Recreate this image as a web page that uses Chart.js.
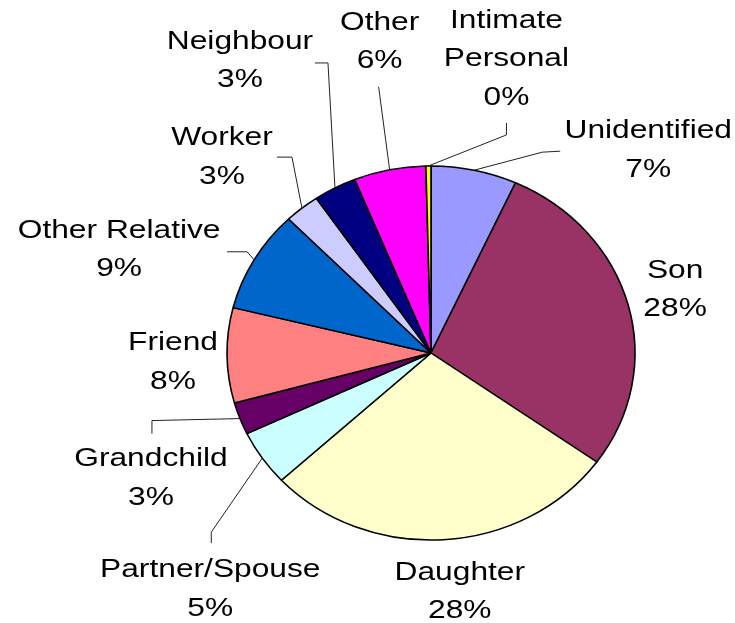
<!DOCTYPE html>
<html>
<head>
<meta charset="utf-8">
<script src="https://cdn.jsdelivr.net/npm/chart.js@4"></script>
<style>
  body { margin: 0; background: #fff; }
  canvas { display: block; }
</style>
</head>
<body>
<canvas id="pieChart" width="735" height="623"></canvas>
<script>
// data (share of cases, %)
const categories = ['Unidentified', 'Son', 'Daughter', 'Partner/Spouse', 'Grandchild', 'Friend',
    'Other Relative', 'Worker', 'Neighbour', 'Other', 'Intimate Personal'];
const shares = [6.8, 28.1, 28.2, 4.8, 2.8, 8.2, 8.8, 2.8, 3.4, 5.7, 0.4];
const sliceColors = ['#9999FF', '#993366', '#FFFFCC', '#CCFFFF', '#660066', '#FF8080',
    '#0066CC', '#CCCCFF', '#000080', '#FF00FF', '#FFFF00'];

// pie is drawn a bit squashed, like the original
const SQUASH = 0.917;

// label placement: offset of the text block from the slice's outer mid point,
// optional leader line points relative to the text block centre
const labelLayout = [
    { dx: 174, dy: -20, leader: [[-88, 1], [-106, 2]] },
    { dx: 47, dy: -15 },
    { dx: 16, dy: 52 },
    { dx: -52, dy: 131, leader: [[1, -46], [1, -57]] },
    { dx: -89, dy: 60, leader: [[1, -45], [1, -58]] },
    { dx: -54, dy: 7 },
    { dx: -135, dy: -10, leader: [[108, 2], [128, 2]] },
    { dx: -80, dy: -51, leader: [[55, 0], [70, 0]] },
    { dx: -95, dy: -127, leader: [[75, 2], [88, 2]] },
    { dx: -10, dy: -128, leader: [[-1, 45]] },
    { dx: 78, dy: -107, leader: [[0, 64], [0, 76]], wrap: true }
];

const squashPlugin = {
    id: 'squash',
    beforeDatasetsDraw(chart) {
        const arc = chart.getDatasetMeta(0).data[0];
        const ctx = chart.ctx;
        ctx.save();
        ctx.translate(0, arc.y);
        ctx.scale(1, SQUASH);
        ctx.translate(0, -arc.y);
    },
    afterDatasetsDraw(chart) {
        chart.ctx.restore();
    }
};

const outsideLabels = {
    id: 'outsideLabels',
    afterDraw(chart) {
        const ctx = chart.ctx;
        const values = chart.data.datasets[0].data;
        const total = values.reduce((a, b) => a + b, 0);
        const lineH = 38.5;

        chart.getDatasetMeta(0).data.forEach((arc, i) => {
            const p = arc.getProps(['x', 'y', 'startAngle', 'endAngle', 'outerRadius'], true);
            const mid = (p.startAngle + p.endAngle) / 2;
            const ex = p.x + p.outerRadius * Math.cos(mid);
            const ey = p.y + p.outerRadius * Math.sin(mid) * SQUASH;
            const lay = labelLayout[i];
            const cx = ex + lay.dx;
            const cy = ey + lay.dy;

            if (lay.leader) {
                ctx.save();
                ctx.strokeStyle = '#222';
                ctx.lineWidth = 1;
                ctx.beginPath();
                lay.leader.forEach((pt, k) => {
                    if (k === 0) ctx.moveTo(cx + pt[0], cy + pt[1]);
                    else ctx.lineTo(cx + pt[0], cy + pt[1]);
                });
                ctx.lineTo(ex, ey);
                ctx.stroke();
                ctx.restore();
            }

            const name = chart.data.labels[i];
            const lines = lay.wrap ? name.split(' ') : [name];
            lines.push(Math.round(values[i] / total * 100) + '%');

            ctx.save();
            ctx.fillStyle = '#000';
            ctx.font = '26px "Liberation Sans", Arial, sans-serif';
            ctx.textAlign = 'center';
            ctx.textBaseline = 'middle';
            const top = cy - (lines.length - 1) * lineH / 2;
            lines.forEach((txt, k) => {
                ctx.save();
                ctx.translate(cx, top + k * lineH);
                ctx.scale(1.22, 1);
                ctx.fillText(txt, 0, 0);
                ctx.restore();
            });
            ctx.restore();
        });
    }
};

const ctx = document.getElementById('pieChart').getContext('2d');

new Chart(ctx, {
    type: 'pie',
    data: {
        labels: categories,
        datasets: [{
            data: shares,
            backgroundColor: sliceColors,
            borderColor: '#000',
            borderWidth: 1.6,
            radius: 204
        }]
    },
    options: {
        responsive: false,
        animation: false,
        layout: {
            padding: { left: 227, right: 100, top: 149, bottom: 66 }
        },
        plugins: {
            legend: { display: false },
            tooltip: { enabled: false }
        }
    },
    plugins: [squashPlugin, outsideLabels]
});
</script>
</body>
</html>
